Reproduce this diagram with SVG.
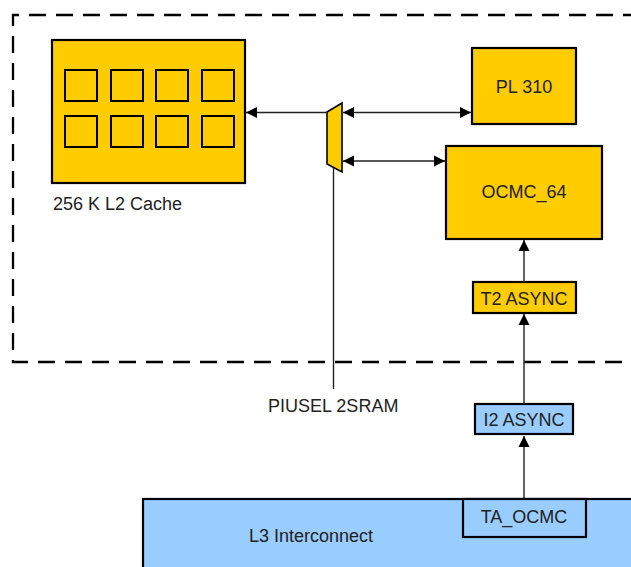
<svg xmlns="http://www.w3.org/2000/svg" width="631" height="567" viewBox="0 0 631 567">
<style>
.y{fill:#FFCC00;stroke:#000;stroke-width:2.2}
.b{fill:#99CCFF;stroke:#000;stroke-width:2.2}
.sq{fill:none;stroke:#000;stroke-width:2}
.t{font-family:"Liberation Sans",Arial,sans-serif;font-size:18px;fill:#222}
.c{text-anchor:middle}
.ln{fill:none;stroke:#222;stroke-width:1.4}
</style>
<defs>
<marker id="ah" markerUnits="userSpaceOnUse" markerWidth="12" markerHeight="12" refX="11" refY="6" orient="auto-start-reverse" viewBox="0 0 12 12">
<path d="M0,0.5 L11,6 L0,11.5 z" fill="#000"/>
</marker>
</defs>
<path d="M640,15 H13 V362 H640" fill="none" stroke="#000" stroke-width="2.3" stroke-dasharray="17 10"/>
<g id="cache">
<rect class="y" x="52" y="40" width="193" height="143"/>
<rect class="sq" x="65" y="70" width="32" height="31"/>
<rect class="sq" x="111" y="70" width="32" height="31"/>
<rect class="sq" x="156" y="70" width="32" height="31"/>
<rect class="sq" x="202" y="70" width="32" height="31"/>
<rect class="sq" x="65" y="116" width="32" height="31"/>
<rect class="sq" x="111" y="116" width="32" height="31"/>
<rect class="sq" x="156" y="116" width="32" height="31"/>
<rect class="sq" x="202" y="116" width="32" height="31"/>
<text class="t" x="53" y="210">256 K L2 Cache</text>
</g>
<g id="pl310">
<rect class="y" x="472" y="48" width="104" height="76"/>
<text class="t c" x="524" y="93">PL 310</text>
</g>
<g id="ocmc64">
<rect class="y" x="446" y="146" width="156" height="93"/>
<text class="t c" x="524" y="198">OCMC_64</text>
</g>
<g id="mux">
<polygon points="327,112 342,103 342,172 327,164" fill="#FFCC00" stroke="#000" stroke-width="1.6"/>
<text class="t" x="268" y="412">PIUSEL 2SRAM</text>
</g>
<g id="t2async">
<rect class="y" x="473" y="282" width="103" height="31"/>
<text class="t c" x="524" y="305">T2 ASYNC</text>
</g>
<g id="i2async">
<rect class="b" x="475" y="404" width="98" height="30"/>
<text class="t c" x="524" y="426">I2 ASYNC</text>
</g>
<g id="l3">
<rect class="b" x="143" y="499" width="500" height="80" stroke-width="2.6"/>
<text class="t" x="249" y="542">L3 Interconnect</text>
</g>
<g id="taocmc">
<rect class="b" x="463" y="499" width="123" height="38"/>
<text class="t c" x="524" y="523">TA_OCMC</text>
</g>
<g id="connectors">
<line class="ln" x1="327" y1="112.5" x2="246" y2="112.5" marker-end="url(#ah)"/>
<line class="ln" x1="343" y1="112.5" x2="471" y2="112.5" marker-start="url(#ah)" marker-end="url(#ah)"/>
<line class="ln" x1="343" y1="161" x2="445" y2="161" marker-start="url(#ah)" marker-end="url(#ah)"/>
<line class="ln" x1="333.5" y1="168" x2="333.5" y2="389"/>
<line class="ln" x1="524" y1="282" x2="524" y2="240" marker-end="url(#ah)"/>
<line class="ln" x1="524" y1="404" x2="524" y2="314" marker-end="url(#ah)"/>
<line class="ln" x1="524" y1="498" x2="524" y2="436" marker-end="url(#ah)"/>
</g>
</svg>
